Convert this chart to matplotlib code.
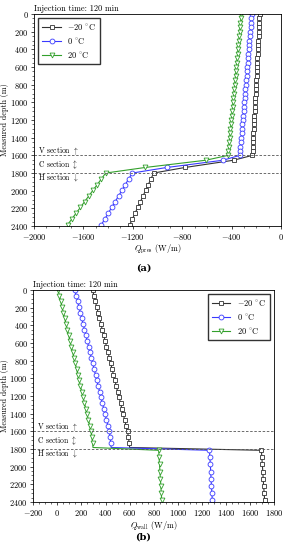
import matplotlib
matplotlib.use("Agg")
import matplotlib.pyplot as plt
from matplotlib.ticker import AutoMinorLocator

plt.rcParams['font.family'] = ['cmr10', 'DejaVu Serif']
plt.rcParams['mathtext.fontset'] = 'cm'
plt.rcParams['axes.formatter.use_mathtext'] = True
plt.rcParams['font.size'] = 6
plt.rcParams['axes.linewidth'] = 0.6

labels = [r'$-20$ $^{\circ}$C', r'$0$ $^{\circ}$C', r'$20$ $^{\circ}$C']
colors = ['#333333', '#3a3aff', '#33a02c']
markers = ['s', 'o', 'v']

# ---- (a) Q_pres ----
depth_a = [0, 50, 100, 150, 200, 250, 300, 350, 400, 450, 500, 550, 600, 650, 700, 750,
           800, 850, 900, 950, 1000, 1050, 1100, 1150, 1200, 1250, 1300, 1350, 1400, 1450,
           1500, 1550, 1600,
           1655, 1737,
           1800, 1865, 1930, 1995, 2060, 2125, 2190, 2255, 2320, 2385]

qpres_m20 = [-173, -175, -177, -179, -180, -182, -184, -186, -188, -190, -192, -194, -196,
             -197, -199, -201, -203, -205, -207, -209, -211, -213, -214, -216, -218, -220,
             -222, -224, -226, -228, -229, -231, -233,
             -385, -778,
             -1032, -1053, -1075, -1096, -1118, -1139, -1161, -1182, -1204, -1225]
qpres_0 = [-238, -241, -244, -247, -250, -253, -256, -259, -262, -265, -268, -271, -274,
           -277, -280, -283, -286, -289, -292, -295, -298, -301, -304, -307, -310, -314,
           -317, -320, -323, -326, -329, -332, -335,
           -470, -925,
           -1205, -1233, -1261, -1288, -1316, -1344, -1372, -1399, -1427, -1455]
qpres_20 = [-322, -325, -329, -332, -336, -339, -342, -346, -349, -352, -356, -359, -363,
            -366, -369, -373, -376, -379, -383, -386, -390, -393, -396, -400, -403, -406,
            -410, -413, -417, -420, -423, -427, -430,
            -610, -1100,
            -1420, -1454, -1488, -1523, -1557, -1591, -1625, -1660, -1694, -1728]

# ---- (b) Q_wall ----
depth_b = [0, 64, 128, 192, 256, 320, 384, 448, 512, 576, 640, 704, 768, 832, 896, 960,
           1024, 1088, 1152, 1216, 1280, 1344, 1408, 1472, 1536, 1600,
           1665, 1735, 1783,
           1815, 1895, 1975, 2055, 2135, 2215, 2295, 2375]

qwall_m20 = [292, 304, 315, 327, 339, 350, 362, 373, 385, 397, 408, 420, 432, 443, 455,
             466, 478, 490, 501, 513, 525, 536, 548, 559, 571, 583,
             590, 597, 600,
             1695, 1699, 1703, 1707, 1710, 1714, 1718, 1722]
qwall_0 = [145, 156, 168, 179, 191, 202, 214, 225, 237, 248, 259, 271, 282, 294, 305, 317,
           328, 339, 351, 362, 374, 385, 397, 408, 420, 431,
           438, 444, 447,
           1264, 1267, 1271, 1274, 1277, 1280, 1284, 1287]
qwall_20 = [6, 17, 28, 39, 50, 61, 72, 83, 94, 105, 116, 127, 138, 149, 160, 171, 181, 192,
            203, 214, 225, 236, 247, 258, 269, 280,
            287, 293, 296,
            842, 845, 849, 852, 856, 860, 863, 867]
corner_b = 28  # bend point of panel (b), drawn without marker

fig = plt.figure(figsize=(2.87, 5.5), dpi=100)
ax1 = fig.add_axes([0.1185, 0.589, 0.861, 0.3855])
ax2 = fig.add_axes([0.116, 0.0873, 0.8387, 0.3855])


def draw(ax, depth, series, mark_idx, legend_loc):
    for q, lab, c, m in zip(series, labels, colors, markers):
        ax.plot(q, depth, color=c, marker=m, markersize=3.5, markerfacecolor='white',
                markeredgewidth=0.6, linewidth=0.8, label=lab, markevery=mark_idx)
    ax.axhline(1600, color='#555555', linestyle='--', linewidth=0.6, dashes=(3, 2))
    ax.axhline(1800, color='#555555', linestyle='--', linewidth=0.6, dashes=(3, 2))
    ax.set_ylim(2400, 0)
    ax.set_yticks(range(0, 2401, 200))
    ax.xaxis.set_minor_locator(AutoMinorLocator())
    ax.yaxis.set_minor_locator(AutoMinorLocator())
    ax.tick_params(which='major', length=2.5, width=0.5, pad=1.5)
    ax.tick_params(which='minor', length=1.3, width=0.4)
    ax.set_ylabel('Measured depth (m)', fontsize=5.8)
    # place the label in pixels: centre about 9 px from the figure edge
    left_px = ax.get_position().x0 * 287
    width_px = ax.get_position().width * 287
    ax.yaxis.set_label_coords((9 - left_px) / width_px, 0.5)
    ax.set_title('Injection time: 120 min', loc='left', fontsize=6, pad=2)
    ax.text(0.015, 1550, r'V section $\uparrow$', transform=ax.get_yaxis_transform(),
            va='center', ha='left', fontsize=5.5)
    ax.text(0.015, 1700, r'C section $\updownarrow$', transform=ax.get_yaxis_transform(),
            va='center', ha='left', fontsize=5.5)
    ax.text(0.015, 1855, r'H section $\downarrow$', transform=ax.get_yaxis_transform(),
            va='center', ha='left', fontsize=5.5)
    ax.legend(loc=legend_loc, fontsize=6, handlelength=2.2, borderpad=0.5,
              labelspacing=0.45, fancybox=False, edgecolor='#333333', framealpha=1)


draw(ax1, depth_a, [qpres_m20, qpres_0, qpres_20], None, 'upper left')
ax1.set_xlim(-2000, 0)
ax1.set_xticks([-2000, -1600, -1200, -800, -400, 0])
ax1.set_xlabel(r'$Q_{\mathrm{pres}}$ (W/m)', labelpad=1)

marks_b = [i for i in range(len(depth_b)) if i != corner_b]
draw(ax2, depth_b, [qwall_m20, qwall_0, qwall_20], marks_b, 'upper right')
ax2.set_xlim(-200, 1800)
ax2.set_xticks(range(-200, 1801, 200))
ax2.set_xlabel(r'$Q_{\mathrm{wall}}$ (W/m)', labelpad=1)

fig.text(0.5, 1 - 268 / 550, '(a)', ha='center', va='center', fontsize=7, fontweight='bold',
         family=['DejaVu Serif'])
fig.text(0.5, 1 - 537 / 550, '(b)', ha='center', va='center', fontsize=7, fontweight='bold',
         family=['DejaVu Serif'])

fig.savefig('out.png', dpi=100)
